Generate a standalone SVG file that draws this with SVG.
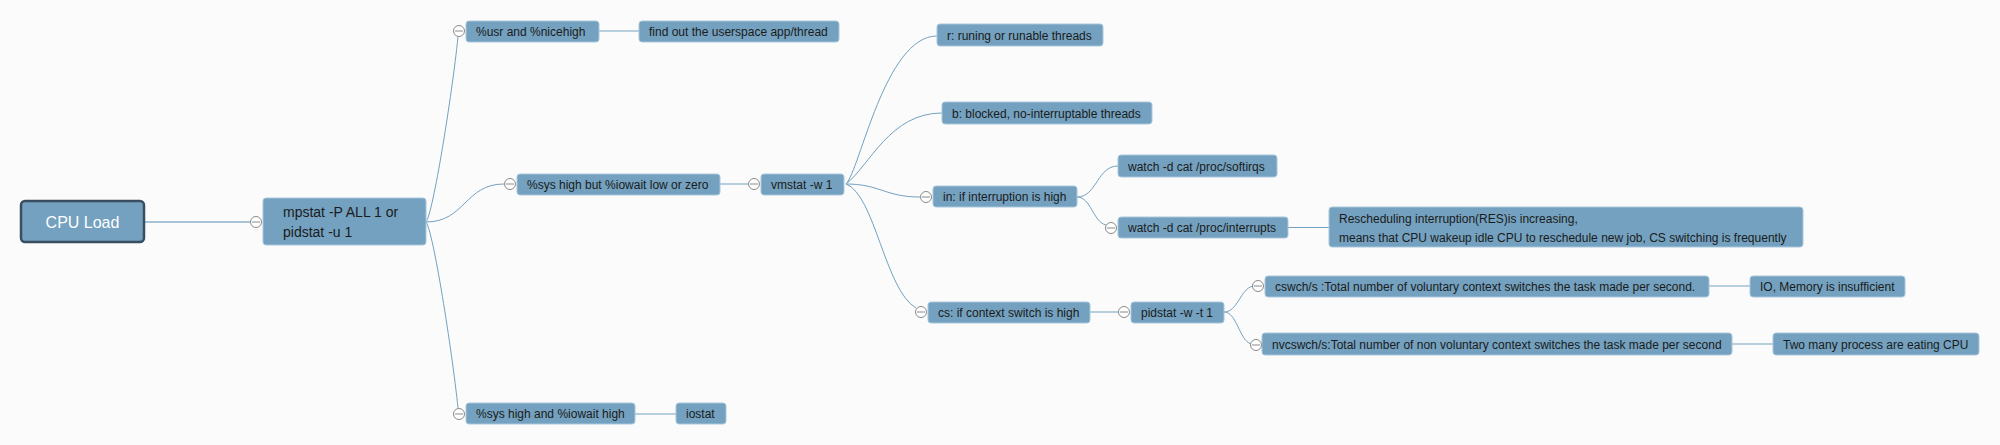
<svg xmlns="http://www.w3.org/2000/svg" width="2000" height="445" viewBox="0 0 2000 445">
<style>
.bg{fill:#fbfbfb}
.n{fill:#73a1bf;stroke:#a9c7dc;stroke-width:1}
.root{fill:#73a1bf;stroke:#394e60;stroke-width:2.5}
.t{font-family:"Liberation Sans",Arial,sans-serif;font-size:12px;fill:#1b1b1b}
.t14{font-family:"Liberation Sans",Arial,sans-serif;font-size:14px;fill:#1b1b1b}
.rt{font-family:"Liberation Sans",Arial,sans-serif;font-size:16px;fill:#ffffff}
.c{fill:none;stroke:#73a1bf;stroke-width:1}
.c0{fill:none;stroke:#a6c3d8;stroke-width:2}
.ex circle{fill:#ffffff;stroke:#8a8a8a;stroke-width:1}
.ex line{stroke:#8a8a8a;stroke-width:1}
</style>
<rect class="bg" x="0" y="0" width="2000" height="445"/>
<g id="connectors">
<path class="c0" d="M145 222 L250 222"/>
<path class="c" d="M426 222 C433 214 452 95 458 37"/>
<path class="c" d="M426 222 C465 222 465 184 504 184"/>
<path class="c" d="M426 222 C433 230 452 350 458 408"/>
<path class="c" d="M599 31 L639 31"/>
<path class="c" d="M720 184 L748 184"/>
<path class="c" d="M635 414 L676 414"/>
<path class="c" d="M846 184 C860 170 885 36 937 36"/>
<path class="c" d="M846 184 C870 165 890 113 942 113"/>
<path class="c" d="M846 184 C880 184 885 197 920 197"/>
<path class="c" d="M846 184 C875 195 885 290 916 308"/>
<path class="c" d="M1077 197 C1097 197 1097 166 1118 166"/>
<path class="c" d="M1077 197 C1091 197 1093 222 1106 225"/>
<path class="c" d="M1288 227.5 L1329 227.5"/>
<path class="c" d="M1090 312 L1118 312"/>
<path class="c" d="M1224 312 C1238 312 1240 289 1253 286"/>
<path class="c" d="M1224 312 C1237 312 1239 340 1251 344"/>
<path class="c" d="M1709 286 L1750 286"/>
<path class="c" d="M1732 344 L1773 344"/>
</g>
<g id="n-root">
<rect class="root" x="21" y="201" width="123" height="41" rx="4"/>
<text class="rt" x="82.5" y="227.5" text-anchor="middle">CPU Load</text>
</g>
<g id="n-mpstat">
<rect class="n" x="263" y="198" width="163" height="47" rx="3"/>
<text class="t14" x="283" y="217">mpstat -P ALL 1 or</text>
<text class="t14" x="283" y="237">pidstat -u 1</text>
<g class="ex"><circle cx="256" cy="222" r="5.5"/><line x1="252" y1="222" x2="260" y2="222"/></g>
</g>
<g id="n-usr">
<rect class="n" x="466" y="21" width="133" height="21" rx="3"/>
<text class="t" x="476" y="36">%usr and %nicehigh</text>
<g class="ex"><circle cx="459" cy="31" r="5.5"/><line x1="455" y1="31" x2="463" y2="31"/></g>
</g>
<g id="n-find">
<rect class="n" x="639" y="21" width="200" height="21" rx="3"/>
<text class="t" x="649" y="36">find out the userspace app/thread</text>
</g>
<g id="n-sysbut">
<rect class="n" x="517" y="174" width="203" height="21" rx="3"/>
<text class="t" x="527" y="189">%sys high but %iowait low or zero</text>
<g class="ex"><circle cx="510" cy="184" r="5.5"/><line x1="506" y1="184" x2="514" y2="184"/></g>
</g>
<g id="n-vmstat">
<rect class="n" x="761" y="174" width="83" height="21" rx="3"/>
<text class="t" x="771" y="189">vmstat -w 1</text>
<g class="ex"><circle cx="754" cy="184" r="5.5"/><line x1="750" y1="184" x2="758" y2="184"/></g>
</g>
<g id="n-sysand">
<rect class="n" x="466" y="403" width="169" height="21" rx="3"/>
<text class="t" x="476" y="418">%sys high and %iowait high</text>
<g class="ex"><circle cx="459" cy="414" r="5.5"/><line x1="455" y1="414" x2="463" y2="414"/></g>
</g>
<g id="n-iostat">
<rect class="n" x="676" y="403" width="50" height="21" rx="3"/>
<text class="t" x="686" y="418">iostat</text>
</g>
<g id="n-r">
<rect class="n" x="937" y="24" width="166" height="22" rx="3"/>
<text class="t" x="947" y="39.5">r: runing or runable threads</text>
</g>
<g id="n-b">
<rect class="n" x="942" y="102" width="210" height="22" rx="3"/>
<text class="t" x="952" y="117.5">b: blocked, no-interruptable threads</text>
</g>
<g id="n-in">
<rect class="n" x="933" y="186" width="144" height="21" rx="3"/>
<text class="t" x="943" y="201">in: if interruption is high</text>
<g class="ex"><circle cx="926" cy="197" r="5.5"/><line x1="922" y1="197" x2="930" y2="197"/></g>
</g>
<g id="n-softirqs">
<rect class="n" x="1118" y="155" width="159" height="22" rx="3"/>
<text class="t" x="1128" y="170.5">watch -d cat /proc/softirqs</text>
</g>
<g id="n-interrupts">
<rect class="n" x="1118" y="217" width="170" height="21" rx="3"/>
<text class="t" x="1128" y="232">watch -d cat /proc/interrupts</text>
<g class="ex"><circle cx="1111" cy="228" r="5.5"/><line x1="1107" y1="228" x2="1115" y2="228"/></g>
</g>
<g id="n-resched">
<rect class="n" x="1329" y="207" width="474" height="40" rx="3"/>
<text class="t" x="1339" y="223">Rescheduling interruption(RES)is increasing,</text>
<text class="t" x="1339" y="241.5">means that CPU wakeup idle CPU to reschedule new job, CS switching is frequently</text>
</g>
<g id="n-cs">
<rect class="n" x="928" y="302" width="162" height="21" rx="3"/>
<text class="t" x="938" y="317">cs: if context switch is high</text>
<g class="ex"><circle cx="921" cy="312" r="5.5"/><line x1="917" y1="312" x2="925" y2="312"/></g>
</g>
<g id="n-pidstat">
<rect class="n" x="1131" y="302" width="93" height="21" rx="3"/>
<text class="t" x="1141" y="317">pidstat -w -t 1</text>
<g class="ex"><circle cx="1124" cy="312" r="5.5"/><line x1="1120" y1="312" x2="1128" y2="312"/></g>
</g>
<g id="n-cswch">
<rect class="n" x="1265" y="276" width="444" height="21" rx="3"/>
<text class="t" x="1275" y="291">cswch/s :Total number of voluntary context switches the task made per second.</text>
<g class="ex"><circle cx="1258" cy="286" r="5.5"/><line x1="1254" y1="286" x2="1262" y2="286"/></g>
</g>
<g id="n-io">
<rect class="n" x="1750" y="276" width="155" height="21" rx="3"/>
<text class="t" x="1760" y="291">IO, Memory is insufficient</text>
</g>
<g id="n-nvcswch">
<rect class="n" x="1262" y="333" width="470" height="22" rx="3"/>
<text class="t" x="1272" y="348.5">nvcswch/s:Total number of non voluntary context switches the task made per second</text>
<g class="ex"><circle cx="1256" cy="345" r="5.5"/><line x1="1252" y1="345" x2="1260" y2="345"/></g>
</g>
<g id="n-twomany">
<rect class="n" x="1773" y="333" width="206" height="22" rx="3"/>
<text class="t" x="1783" y="348.5">Two many process are eating CPU</text>
</g>
</svg>
